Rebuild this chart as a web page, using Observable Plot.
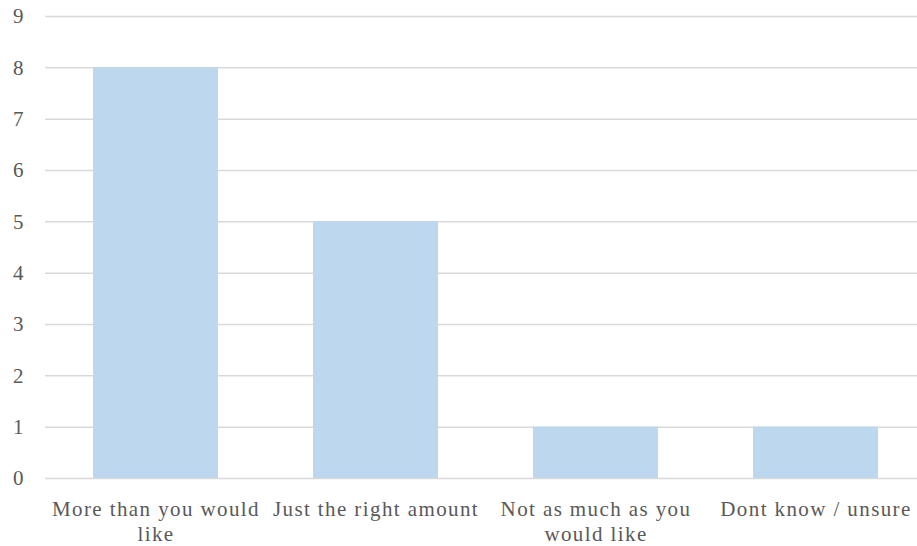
<!DOCTYPE html>
<html><head><meta charset="utf-8">
<script src="https://cdn.jsdelivr.net/npm/d3@7"></script>
<script src="https://cdn.jsdelivr.net/npm/@observablehq/plot@0.6"></script>
<style>
body{margin:0;background:#fff;} svg{display:block;}
#chart svg, #chart svg text, #chart svg tspan { font-family: "Liberation Serif", "Times New Roman", serif !important; }
#chart svg g[aria-label="x-axis tick label"] text { letter-spacing: 1.4px; }
</style>
</head><body><div id="chart"></div>
<script>
const categories = ["More than you would like", "Just the right amount", "Not as much as you would like", "Dont know / unsure"];
const tickLabels = ["More than you would\nlike", "Just the right amount", "Not as much as you\nwould like", "Dont know / unsure"];
const values = [8, 5, 1, 1];
const yTicks = [0,1,2,3,4,5,6,7,8,9];

const data = categories.map((c, i) => ({category: c, value: values[i]}));
const labelOf = new Map(categories.map((c, i) => [c, tickLabels[i]]));
const serif = "Liberation Serif";

const chart = Plot.plot({
  width: 917, height: 546,
  marginLeft: 45, marginRight: 0, marginTop: 16, marginBottom: 68,
  style: "font-family: 'Liberation Serif', serif; font-size: 21px; color: #595959; background: #fff;",
  x: {domain: categories, range: [45, 927], paddingInner: 0.43, paddingOuter: 0.215, label: null},
  y: {domain: [0, 9], label: null},
  marks: [
    Plot.ruleY(yTicks, {stroke: "#d9d9d9", strokeWidth: 1.5}),
    Plot.barY(data, {x: "category", y: "value", fill: "#bdd7ee"}),
    Plot.axisY({ticks: yTicks, tickSize: 0, tickPadding: 22, fontSize: 21, fontFamily: serif, fill: "#595959"}),
    Plot.axisX({tickSize: 0, tickPadding: 20, fontSize: 21, fontFamily: serif, fill: "#595959", tickFormat: d => labelOf.get(d), lineHeight: 1.19})
  ]
});
document.getElementById("chart").append(chart);
</script></body></html>
